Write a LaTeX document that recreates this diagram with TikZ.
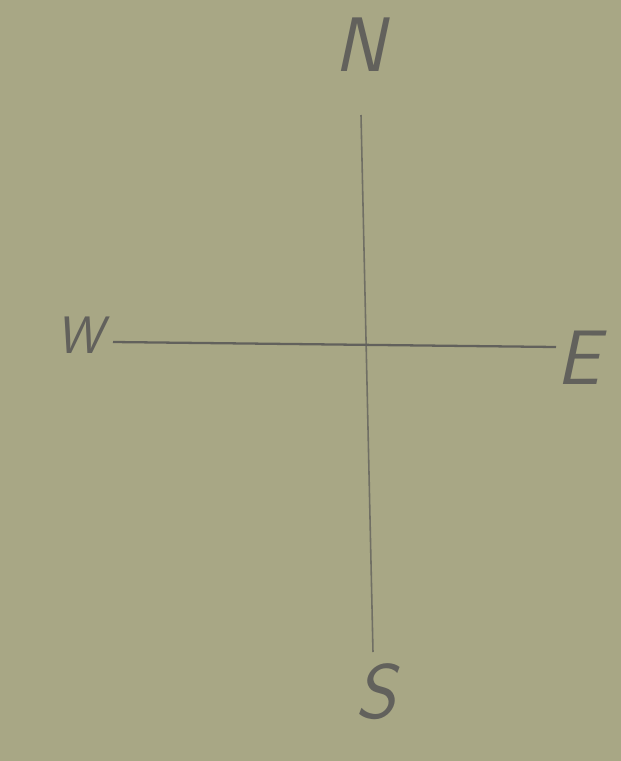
\documentclass[tikz,border=0pt]{standalone}
\usepackage{xcolor}
\usepackage{tikz}

\definecolor{paper}{RGB}{168,167,133}
\definecolor{pencil}{RGB}{98,97,92}

\begin{document}
\begin{tikzpicture}[x=0.02cm, y=-0.02cm,
    letter/.style={text=pencil, font=\sffamily\slshape\fontsize{44}{44}\selectfont, inner sep=0pt},
    stroke/.style={draw=pencil, line width=1pt}]
  \fill[paper] (0,0) rectangle (621,761);
  \useasboundingbox (0,0) rectangle (621,761);
  % points of the compass
  \node[letter] (north) at (360,45) {N};
  \node[letter, font=\sffamily\slshape\fontsize{30}{30}\selectfont] (west) at (80,335) {W};
  \node[letter] (east)  at (578,358) {E};
  \node[letter] (south) at (376,692) {S};
  % ends of the cross
  \coordinate (ntop) at (361,115);
  \coordinate (sbot) at (373,652);
  \coordinate (wend) at (113,342);
  \coordinate (eend) at (556,347);
  \draw[stroke, draw=pencil!80!paper, line width=0.9pt] (ntop) -- (sbot);
  \draw[stroke, line width=1.3pt] (wend) -- (eend);
\end{tikzpicture}
\end{document}
